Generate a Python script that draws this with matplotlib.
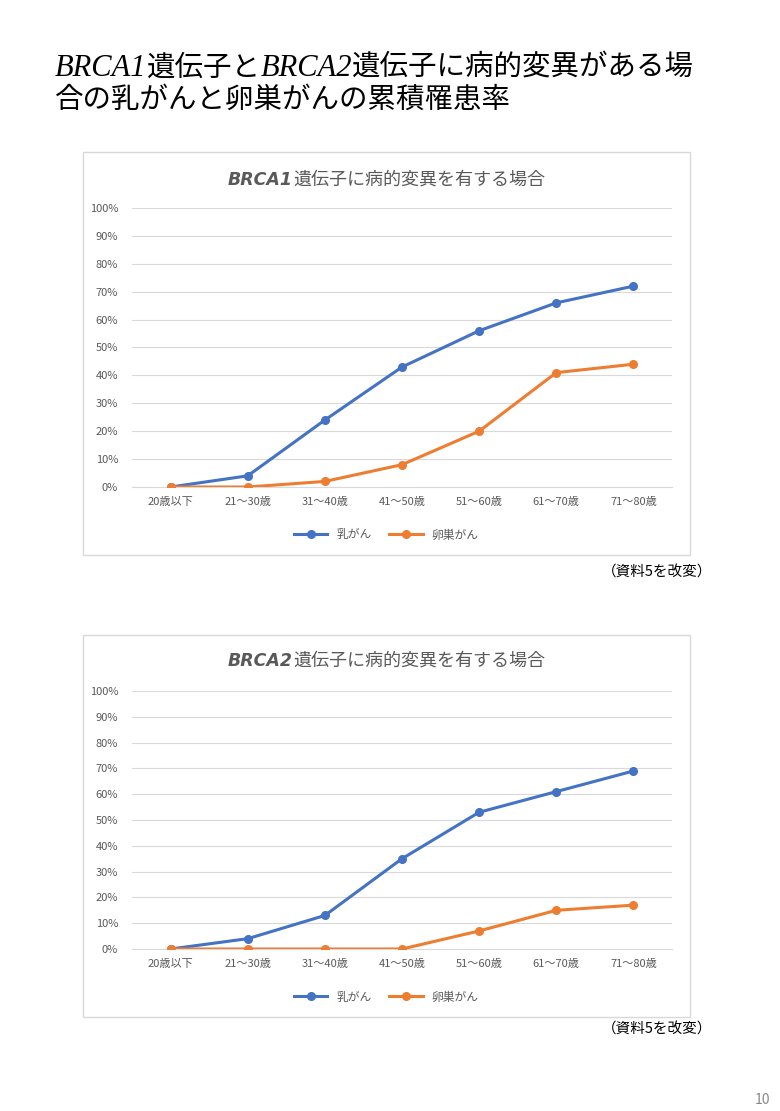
import matplotlib
matplotlib.use("Agg")
import matplotlib.pyplot as plt
from matplotlib.patches import Rectangle

categories = ["20歳以下", "21～30歳", "31～40歳", "41～50歳", "51～60歳", "61～70歳", "71～80歳"]
brca1_breast = [0, 4, 24, 43, 56, 66, 72]
brca1_ovary = [0, 0, 2, 8, 20, 41, 44]
brca2_breast = [0, 4, 13, 35, 53, 61, 69]
brca2_ovary = [0, 0, 0, 0, 7, 15, 17]
series_names = ["乳がん", "卵巣がん"]

JP = ["Noto Sans CJK JP", "DejaVu Sans"]
plt.rcParams['font.family'] = JP
W, H = 780, 1111
fig = plt.figure(figsize=(W/100, H/100), dpi=100)
fig.patch.set_facecolor("white")
renderer = fig.canvas.get_renderer()

def fx(x): return x / W
def fy(y): return 1 - y / H

def rich(parts, x, y, ha="left"):
    texts = []
    for s, kw in parts:
        t = fig.text(0, fy(y), s, va="center", ha="left", **kw)
        texts.append(t)
    widths = [t.get_window_extent(renderer).width for t in texts]
    total = sum(widths)
    cx = x - total / 2 if ha == "center" else x
    for t, w in zip(texts, widths):
        t.set_x(fx(cx)); cx += w

rich([("BRCA1", dict(family="Liberation Serif", style="italic", fontsize=22)),
      ("遺伝子と", dict(family=JP, fontsize=20.5)),
      ("BRCA2", dict(family="Liberation Serif", style="italic", fontsize=22)),
      ("遺伝子に病的変異がある場", dict(family=JP, fontsize=20.5))], 55, 68)
fig.text(fx(55), fy(100), "合の乳がんと卵巣がんの累積罹患率", fontsize=20.5, va="center", ha="left")

def chart(box, plot, ttl_y, leg_y, note_y, gene, b, o):
    x0, y0, x1, y1 = box
    fig.patches.append(Rectangle((fx(x0), fy(y1)), (x1-x0)/W, (y1-y0)/H, transform=fig.transFigure,
                                 fill=False, edgecolor="#d9d9d9", lw=1))
    px0, py0, px1, py1 = plot
    ax = fig.add_axes([fx(px0), fy(py1), (px1-px0)/W, (py1-py0)/H])
    xs = list(range(len(categories)))
    ax.plot(xs, b, color="#4472c4", lw=2.2, marker="o", ms=5.5, label=series_names[0], zorder=3)
    ax.plot(xs, o, color="#ed7d31", lw=2.2, marker="o", ms=5.5, label=series_names[1], zorder=3)
    ax.set_xlim(-0.5, 6.5); ax.set_ylim(0, 100)
    ax.set_yticks(range(0, 101, 10))
    ax.set_yticklabels([f"{v}%" for v in range(0, 101, 10)], fontsize=8, color="#595959")
    ax.set_xticks(xs); ax.set_xticklabels(categories, fontsize=8, color="#595959")
    ax.grid(axis="y", color="#d9d9d9", lw=0.8); ax.set_axisbelow(True)
    for s in ["top", "right", "left"]: ax.spines[s].set_visible(False)
    ax.spines["bottom"].set_color("#d9d9d9")
    ax.tick_params(length=0, pad=7)
    ax.tick_params(axis="y", pad=10)
    rich([(gene, dict(family="DejaVu Sans", style="italic", weight="bold", fontsize=12.5, color="#595959")),
          ("遺伝子に病的変異を有する場合", dict(family=JP, fontsize=13, color="#595959"))],
         (x0+x1)/2, ttl_y, ha="center")
    ax.legend(loc="center", bbox_to_anchor=(((x0+x1)/2 - px0)/(px1-px0), (py1-leg_y)/(py1-py0)),
              ncol=2, frameon=False, fontsize=8.5, handlelength=2.8, columnspacing=1.5,
              labelcolor="#595959")
    fig.text(fx(712), fy(note_y), "（資料5を改変）", fontsize=10.5, ha="right", va="center")

chart((83, 152, 690, 555), (132, 208, 672, 487), 180, 535, 573, "BRCA1", brca1_breast, brca1_ovary)
chart((83, 635, 690, 1017), (132, 691, 672, 949), 661, 997, 1030, "BRCA2", brca2_breast, brca2_ovary)

fig.text(fx(770), fy(1100), "10", fontsize=10, color="#888888", ha="right", va="center")
fig.savefig("out.png", dpi=100)
